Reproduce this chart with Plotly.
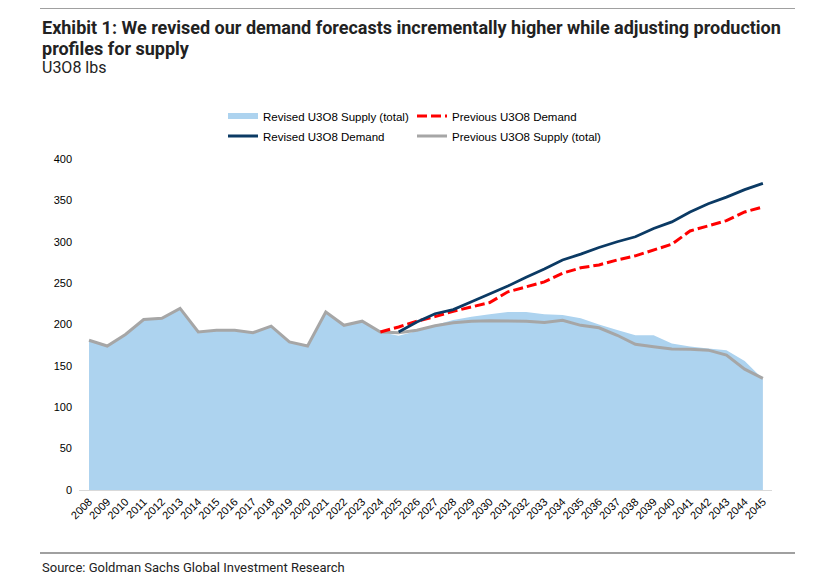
import plotly.graph_objects as go

years = [str(y) for y in range(2008, 2046)]

# revised supply (area) and previous supply (grey line), 2008-2045
rev_supply = [181, 174, 188, 206, 207.5, 219.5, 191, 193, 193, 190, 198, 179, 174, 215, 199, 204, 191,
              186.5, 192, 199.5, 205.5, 209.5, 212.5, 215, 215, 212.5, 211.5, 207.5, 200, 193.5, 187,
              187, 177, 173.5, 171, 169, 156, 134]
prev_supply = [181, 174, 188, 206, 207.5, 219.5, 191, 193, 193, 190, 198, 179, 174, 215, 199, 204, 191,
               190, 193, 198.5, 202, 204, 204.5, 204.5, 204, 202.5, 205, 199, 196, 187, 176,
               173, 170.5, 170, 169, 163, 146, 135]

# demand forecasts, only from 2024/2025 on
rev_demand = [None] * 17 + [191, 203, 213, 218, 227.5, 237, 246.5, 257, 267, 278, 285, 293, 300, 306,
                            316, 324, 336, 346, 354, 363, 370.5]
prev_demand = [None] * 16 + [191, 197, 204, 209.5, 216, 221.5, 226.5, 239.5, 245.5, 251.5, 262, 268.5,
                             272, 278, 283, 290, 297, 313, 319, 325.5, 336, 342]

y_ticks = [0, 50, 100, 150, 200, 250, 300, 350, 400]

# page body has an 8px margin, so shift everything back by that much
OFF = 8
# plot area in (screen) pixels
L, R, T, B = 79 - OFF, 772 - OFF, 159 - OFF, 490 - OFF
W, H = R - L, B - T


def px(x):
    return (x - OFF - L) / W


def py(y):
    return (B - (y - OFF)) / H


fig = go.Figure()

fig.add_trace(go.Scatter(x=years, y=rev_supply, mode='none', fill='tozeroy',
                         fillcolor='#ADD3EF', name='Revised U3O8 Supply (total)',
                         legend='legend', legendrank=1))
fig.add_trace(go.Scatter(x=years, y=prev_supply, mode='lines',
                         line=dict(color='#A6A6A6', width=3), name='Previous U3O8 Supply (total)',
                         legend='legend2', legendrank=2))
fig.add_trace(go.Scatter(x=years, y=prev_demand, mode='lines',
                         line=dict(color='#FF0000', width=3, dash='10px,4px'), name='Previous U3O8 Demand',
                         legend='legend', legendrank=2))
fig.add_trace(go.Scatter(x=years, y=rev_demand, mode='lines',
                         line=dict(color='#0B3A64', width=2.8), name='Revised U3O8 Demand',
                         legend='legend2', legendrank=1))

legend_font = dict(family='Liberation Sans, Arial, sans-serif', size=11.5, color='#000')
leg = dict(orientation='h', x=px(223), y=py(116), xanchor='left', yanchor='middle',
           font=legend_font, entrywidth=144, bgcolor='rgba(0,0,0,0)', traceorder='normal',
           itemclick=False)
leg2 = dict(leg, y=py(136))

title_font = 'Liberation Sans Narrow, Roboto, Arial, sans-serif'
annotations = [
    dict(text='<b>Exhibit 1: We revised our demand forecasts incrementally higher while adjusting production</b>',
         x=px(40), y=py(27), font=dict(family=title_font, size=18, color='#222')),
    dict(text='<b>profiles for supply</b>', x=px(40), y=py(48),
         font=dict(family=title_font, size=18, color='#222')),
    dict(text='U3O8 lbs', x=px(40), y=py(68), font=dict(family=title_font, size=16, color='#222')),
    dict(text='Source: Goldman Sachs Global Investment Research', x=px(40), y=py(567),
         font=dict(family=title_font, size=13, color='#222')),
]
for a in annotations:
    a.update(xref='paper', yref='paper', xanchor='left', yanchor='middle', showarrow=False)

shapes = [
    dict(type='line', xref='paper', yref='paper', x0=px(40), x1=px(795), y0=py(8), y1=py(8),
         line=dict(color='#808080', width=1.5)),
    dict(type='line', xref='paper', yref='paper', x0=px(40), x1=px(795), y0=py(553), y1=py(553),
         line=dict(color='#808080', width=1.5)),
]

fig.update_layout(
    width=818, height=582,
    margin=dict(l=L, r=818 - R, t=T, b=582 - B),
    paper_bgcolor='white', plot_bgcolor='white',
    showlegend=True, legend=leg, legend2=leg2,
    annotations=annotations, shapes=shapes,
    hovermode=False,
    xaxis=dict(type='category', range=[-0.55, 37.5], tickangle=-45, showgrid=False,
               showline=True, linecolor='#D9D9D9', linewidth=1, ticks='',
               tickfont=dict(family='Liberation Sans, Arial, sans-serif', size=11, color='#000')),
    yaxis=dict(range=[0, 400], tickvals=y_ticks, showgrid=False, zeroline=False, showline=False,
               ticks='', ticklabelstandoff=6,
               tickfont=dict(family='Liberation Sans, Arial, sans-serif', size=11, color='#000')),
)

fig.write_html("out.html")
